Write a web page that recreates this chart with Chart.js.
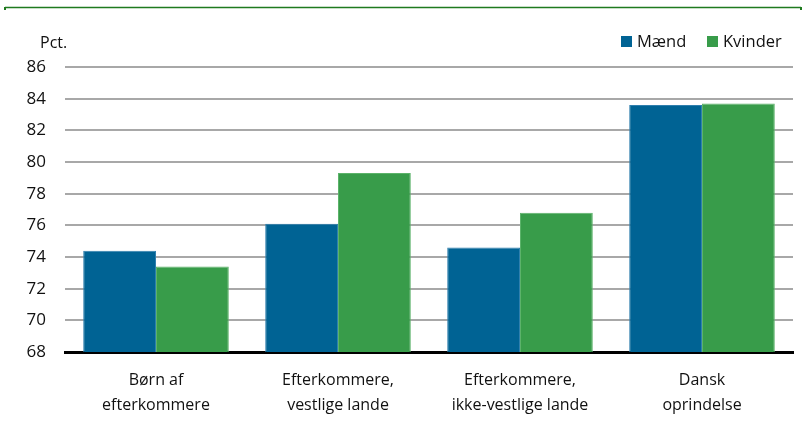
<!DOCTYPE html>
<html>
<head>
<meta charset="utf-8">
<script src="https://cdn.jsdelivr.net/npm/chart.js@4.4.1/dist/chart.umd.min.js"></script>
<style>
  html, body { margin: 0; padding: 0; background: #fff; }
  #wrap { width: 806px; height: 421px; position: relative; }
</style>
</head>
<body>
<div id="wrap"><canvas id="chart"></canvas></div>
<script>
// data
const categories = [
    ["Børn af", "efterkommere"],
    ["Efterkommere,", "vestlige lande"],
    ["Efterkommere,", "ikke-vestlige lande"],
    ["Dansk", "oprindelse"],
];
const maend = [74.4, 76.1, 74.6, 83.6];
const kvinder = [73.4, 79.3, 76.8, 83.7];
const seriesNames = ["Mænd", "Kvinder"];
const yTicks = [68, 70, 72, 74, 76, 78, 80, 82, 84, 86];

const BLUE = "#006394";
const GREEN = "#389c4a";
const FONT = "'Open Sans', sans-serif";

// top rule, unit label and legend drawn by hand
const decorations = {
    id: "decorations",
    afterDraw(chart) {
        const ctx = chart.ctx;
        ctx.save();
        // green rule across the top
        ctx.strokeStyle = "#1f7a1f";
        ctx.lineWidth = 1.5;
        ctx.beginPath();
        ctx.moveTo(5, 7.5);
        ctx.lineTo(801, 7.5);
        ctx.stroke();
        ctx.fillStyle = "#1f7a1f";
        ctx.fillRect(4, 7, 2, 3);
        ctx.fillRect(800, 7, 2, 3);

        ctx.fillStyle = "#111";
        ctx.textBaseline = "middle";
        ctx.font = "16px " + FONT;
        ctx.textAlign = "left";
        ctx.fillText("Pct.", 40, 43);

        // legend
        const items = [
            { name: seriesNames[0], color: BLUE, x: 621 },
            { name: seriesNames[1], color: GREEN, x: 707 },
        ];
        ctx.font = "16.5px " + FONT;
        items.forEach((it) => {
            ctx.fillStyle = it.color;
            ctx.fillRect(it.x, 36, 11, 11);
            ctx.fillStyle = "#111";
            ctx.fillText(it.name, it.x + 16, 42);
        });
        ctx.restore();
    }
};

const ctx = document.getElementById("chart").getContext("2d");
new Chart(ctx, {
    type: "bar",
    data: {
        labels: categories,
        datasets: [
            {
                label: seriesNames[0],
                data: maend,
                backgroundColor: BLUE,
                borderColor: "#2f7fae",
                borderWidth: 1,
                categoryPercentage: 0.8,
                barPercentage: 1.0,
            },
            {
                label: seriesNames[1],
                data: kvinder,
                backgroundColor: GREEN,
                borderColor: "#5cb36a",
                borderWidth: 1,
                categoryPercentage: 0.8,
                barPercentage: 1.0,
            },
        ],
    },
    options: {
        responsive: true,
        maintainAspectRatio: false,
        animation: false,
        layout: { padding: { top: 67, right: 13, left: 0, bottom: 0 } },
        plugins: {
            legend: { display: false },
            tooltip: { enabled: false },
        },
        scales: {
            x: {
                afterFit(scale) { scale.height = 69; },
                grid: { display: false, drawTicks: false },
                border: { color: "#000", width: 3 },
                ticks: {
                    color: "#111",
                    font: { family: FONT, size: 16, lineHeight: 1.55 },
                    padding: 16,
                    maxRotation: 0,
                },
            },
            y: {
                min: 68,
                max: 86,
                afterFit(scale) { scale.width = 65; },
                afterBuildTicks(scale) { scale.ticks = yTicks.map(v => ({ value: v })); },
                grid: { color: "#a8a8a8", lineWidth: 2, drawTicks: false },
                border: { display: false },
                ticks: {
                    color: "#111",
                    font: { family: FONT, size: 17 },
                    padding: 19,
                },
            },
        },
    },
    plugins: [decorations],
});
</script>
</body>
</html>
